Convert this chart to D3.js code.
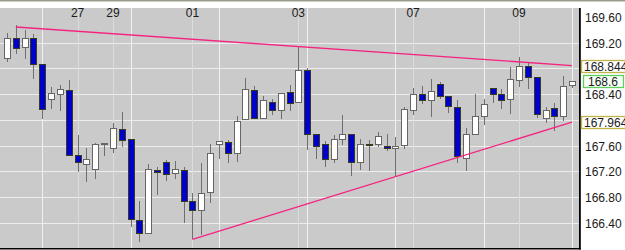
<!DOCTYPE html>
<html>
<head>
<meta charset="utf-8">
<script src="https://cdn.jsdelivr.net/npm/d3@7"></script>
<style>
  body { margin: 0; background: #fff; }
  svg { display: block; font-family: "Liberation Sans", Arial, sans-serif; }
</style>
</head>
<body>
<div id="chart"></div>
<script>
// candle data (one bar per index)
const opens  = [168.957,169.268,169.128,169.268,168.868,168.319,168.386,168.453,167.441,167.307,
                167.219,167.623,167.556,167.852,167.686,166.425,166.233,167.208,167.332,167.167,
                167.208,166.725,166.596,166.865,167.608,167.644,167.468,167.997,168.453,168.023,
                168.266,168.142,168.428,168.266,168.760,167.774,167.619,167.385,167.686,167.774,
                167.332,167.619,167.623,167.581,167.556,167.597,168.142,168.386,168.308,168.553,
                168.360,168.195,167.401,167.774,168.048,168.490,168.386,168.319,168.609,168.826,
                168.662,168.023,168.173,168.048,168.531];
const highs  = [169.346,169.476,169.398,169.331,168.868,168.515,168.542,168.619,167.763,167.556,
                167.634,167.634,167.946,168.126,167.686,166.736,167.312,167.270,167.374,167.359,
                167.270,166.856,167.323,167.619,167.659,167.686,168.059,168.646,168.526,168.370,
                168.324,168.412,168.542,169.128,168.802,167.774,167.675,167.763,168.075,167.774,
                167.697,167.686,167.805,167.779,167.737,168.204,168.490,168.526,168.635,168.593,
                168.360,168.308,167.877,168.397,168.324,168.490,168.475,168.826,168.973,168.904,
                168.662,168.204,168.266,168.682,168.600];
const lows   = [168.904,169.019,168.946,168.635,168.012,168.163,168.137,167.441,167.192,167.037,
                167.079,167.441,167.479,167.581,166.336,166.103,166.233,166.830,167.052,167.079,
                166.398,166.140,166.207,166.700,167.385,167.323,167.348,167.997,168.023,168.023,
                168.075,168.012,168.142,168.266,167.530,167.385,167.270,167.323,167.608,167.130,
                167.219,167.203,167.572,167.519,167.130,167.546,168.075,168.246,168.048,168.324,
                168.111,167.323,167.208,167.774,167.919,168.266,168.163,168.086,168.506,168.475,
                168.023,167.946,167.826,167.986,168.500];
const closes = [169.268,169.113,169.268,168.853,168.168,168.412,168.475,167.441,167.332,167.385,
                167.619,167.634,167.868,167.675,166.451,166.233,167.219,167.177,167.141,167.219,
                166.736,166.585,166.856,167.479,167.659,167.479,167.970,168.475,168.023,168.293,
                168.142,168.412,168.257,168.764,167.774,167.581,167.385,167.697,167.774,167.332,
                167.619,167.603,167.737,167.556,167.588,168.153,168.386,168.293,168.448,168.360,
                168.204,167.426,167.774,168.059,168.241,168.386,168.308,168.635,168.826,168.662,
                168.086,168.142,168.059,168.526,168.600];

// date labels on top, placed at bar index
const dateIdx    = [8, 12, 21, 33, 46, 58];
const dateLabels = ["27", "29", "01", "03", "07", "09"];

// price grid and axis labels
const priceTicks = [169.6, 169.2, 168.8, 168.4, 168.0, 167.6, 167.2, 166.8, 166.4];
const gridTicks  = [169.2, 168.8, 168.4, 168.0, 167.6, 167.2, 166.8, 166.4];

// trend lines [barIndex, price]
const upperTrend = [[1, 169.444], [64, 168.844]];
const lowerTrend = [[21, 166.140], [64, 167.964]];

// boxed price markers on the right axis
const markerValues = [168.844, 168.6, 167.964];
const markerKinds  = ["trend", "last", "trend"];

const W = 625, H = 250;
const plotRight = 579, plotTop = 8, plotBottom = 248;

const svg = d3.select("#chart").append("svg")
  .attr("width", W)
  .attr("height", H);

const x = d3.scaleLinear().domain([0, opens.length - 1]).range([7, 572]);
const y = d3.scaleLinear().domain([166.4, 169.6]).range([222.6, 17]);

// top strip
svg.append("rect").attr("x", 0).attr("y", 0).attr("width", W).attr("height", 1.5).attr("fill", "#9d9b8d");

// plot background
svg.append("rect")
  .attr("x", 0).attr("y", plotTop)
  .attr("width", plotRight).attr("height", plotBottom - plotTop)
  .attr("fill", "#cacaca");

const grid = svg.append("g").attr("shape-rendering", "crispEdges");

// horizontal grid
grid.selectAll(".hgrid")
  .data(gridTicks)
  .enter().append("line")
    .attr("x1", 0).attr("x2", plotRight)
    .attr("y1", d => Math.round(y(d)) + 0.5)
    .attr("y2", d => Math.round(y(d)) + 0.5)
    .attr("stroke", "#ededed");

// vertical grid: every 10 bars plus the date bars
const majorIdx = d3.range(4, opens.length, 10);
grid.selectAll(".vmajor")
  .data(majorIdx)
  .enter().append("line")
    .attr("x1", d => Math.round(x(d)) + 0.5)
    .attr("x2", d => Math.round(x(d)) + 0.5)
    .attr("y1", plotTop).attr("y2", plotBottom)
    .attr("stroke", "#f0f0f0");

grid.selectAll(".vdate")
  .data(dateIdx)
  .enter().append("line")
    .attr("x1", d => Math.round(x(d)) + 0.5)
    .attr("x2", d => Math.round(x(d)) + 0.5)
    .attr("y1", plotTop).attr("y2", plotBottom)
    .attr("stroke", "#dcdcdc");

// date labels
svg.selectAll(".date")
  .data(dateIdx)
  .enter().append("text")
    .attr("x", d => x(d))
    .attr("y", 17)
    .attr("text-anchor", "middle")
    .attr("font-size", 12)
    .attr("fill", "#1a1a1a")
    .text((d, i) => dateLabels[i]);

// candles
const candles = svg.append("g").attr("shape-rendering", "crispEdges");
const bars = candles.selectAll(".candle")
  .data(opens.map((o, i) => i))
  .enter().append("g")
    .attr("transform", i => "translate(" + Math.round(x(i)) + ",0)");

bars.append("line")
  .attr("x1", 0.5).attr("x2", 0.5)
  .attr("y1", i => y(highs[i]))
  .attr("y2", i => y(lows[i]))
  .attr("stroke", "#6f6f6f");

bars.append("rect")
  .attr("x", -2.5)
  .attr("width", 6)
  .attr("y", i => y(Math.max(opens[i], closes[i])))
  .attr("height", i => Math.max(1, Math.abs(y(opens[i]) - y(closes[i]))))
  .attr("fill", i => closes[i] < opens[i] ? "#0000cc" : "#ffffff")
  .attr("stroke", i => closes[i] < opens[i] ? "#3a3a20" : "#666666");

// trend lines
const trend = d3.line().x(d => x(d[0])).y(d => y(d[1]));
[upperTrend, lowerTrend].forEach(t => {
  svg.append("path")
    .attr("d", trend(t))
    .attr("fill", "none")
    .attr("stroke", "#f5237f")
    .attr("stroke-width", 1.3);
});

// frame on the right and bottom
svg.append("rect").attr("x", plotRight).attr("y", plotTop).attr("width", 1.8).attr("height", plotBottom - plotTop + 1.5).attr("fill", "#000");
svg.append("rect").attr("x", 0).attr("y", plotBottom).attr("width", plotRight + 1.8).attr("height", 1.5).attr("fill", "#000");

// right price axis (labels hidden where a marker sits)
const shown = priceTicks.filter(t => markerValues.every(m => Math.abs(y(m) - y(t)) > 9));
const axis = d3.axisRight(y).tickValues(shown).tickSize(0).tickPadding(5).tickFormat(d3.format(".2f"));
const axisG = svg.append("g")
  .attr("transform", "translate(" + (plotRight + 1) + ",0)")
  .call(axis);
axisG.select(".domain").remove();
axisG.selectAll("text")
  .attr("font-size", 12)
  .attr("font-family", "Liberation Sans, Arial, sans-serif")
  .attr("fill", "#1a1a1a")
  .attr("dy", "0.38em");

// boxed markers
const markers = svg.selectAll(".marker")
  .data(markerValues)
  .enter().append("g")
    .attr("transform", d => "translate(0," + Math.round(y(d)) + ")");

markers.append("rect")
  .attr("x", (d, i) => markerKinds[i] === "last" ? 583.5 : 581.5)
  .attr("y", -5.5)
  .attr("width", (d, i) => markerKinds[i] === "last" ? 40 : 60)
  .attr("height", 12)
  .attr("fill", (d, i) => markerKinds[i] === "last" ? "#f6fff6" : "#ffffff")
  .attr("stroke", (d, i) => markerKinds[i] === "last" ? "#5fcf5f" : "#bfb447")
  .attr("stroke-width", 1.3);

markers.append("text")
  .attr("x", (d, i) => markerKinds[i] === "last" ? 588 : 584)
  .attr("y", 5)
  .attr("font-size", 12)
  .attr("fill", "#1a1a1a")
  .text(d => String(d));
</script>
</body>
</html>
